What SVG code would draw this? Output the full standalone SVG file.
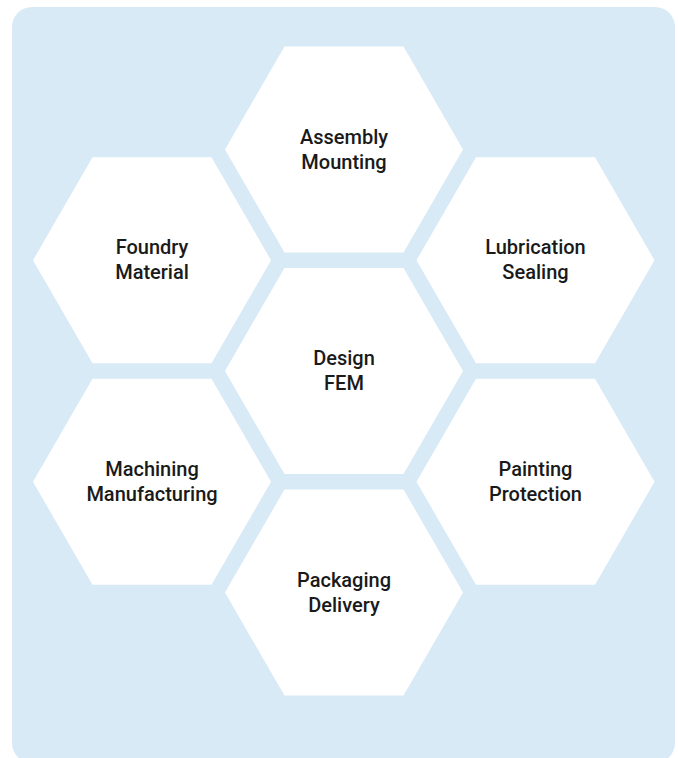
<svg xmlns="http://www.w3.org/2000/svg" xmlns:xlink="http://www.w3.org/1999/xlink" width="678" height="758" viewBox="0 0 678 758">
  <style>
    .bg { fill: #d9eaf7; }
    .hex { fill: #ffffff; }
    .lbl { font-family: Roboto, "Liberation Sans", sans-serif; font-weight: 500; font-size: 20px; fill: #1a1a1a; text-anchor: middle; }
  </style>
  <defs>
    <polygon id="hexshape" points="-119,0 -59.5,-103 59.5,-103 119,0 59.5,103 -59.5,103"/>
  </defs>
  <rect class="bg" x="12" y="7" width="663" height="756" rx="20" ry="20"/>
  <g id="connectors"></g>
  <g id="node-assembly">
    <use href="#hexshape" class="hex" x="344" y="149.5"/>
    <text class="lbl" x="344" y="143.5">Assembly</text>
    <text class="lbl" x="344" y="168.5">Mounting</text>
  </g>
  <g id="node-foundry">
    <use href="#hexshape" class="hex" x="152" y="260.25"/>
    <text class="lbl" x="152" y="254.25">Foundry</text>
    <text class="lbl" x="152" y="279.25">Material</text>
  </g>
  <g id="node-lubrication">
    <use href="#hexshape" class="hex" x="535.5" y="260.25"/>
    <text class="lbl" x="535.5" y="254.25">Lubrication</text>
    <text class="lbl" x="535.5" y="279.25">Sealing</text>
  </g>
  <g id="node-design">
    <use href="#hexshape" class="hex" x="344" y="371"/>
    <text class="lbl" x="344" y="365">Design</text>
    <text class="lbl" x="344" y="390">FEM</text>
  </g>
  <g id="node-machining">
    <use href="#hexshape" class="hex" x="152" y="481.75"/>
    <text class="lbl" x="152" y="475.75">Machining</text>
    <text class="lbl" x="152" y="500.75">Manufacturing</text>
  </g>
  <g id="node-painting">
    <use href="#hexshape" class="hex" x="535.5" y="481.75"/>
    <text class="lbl" x="535.5" y="475.75">Painting</text>
    <text class="lbl" x="535.5" y="500.75">Protection</text>
  </g>
  <g id="node-packaging">
    <use href="#hexshape" class="hex" x="344" y="592.5"/>
    <text class="lbl" x="344" y="586.5">Packaging</text>
    <text class="lbl" x="344" y="611.5">Delivery</text>
  </g>
</svg>
